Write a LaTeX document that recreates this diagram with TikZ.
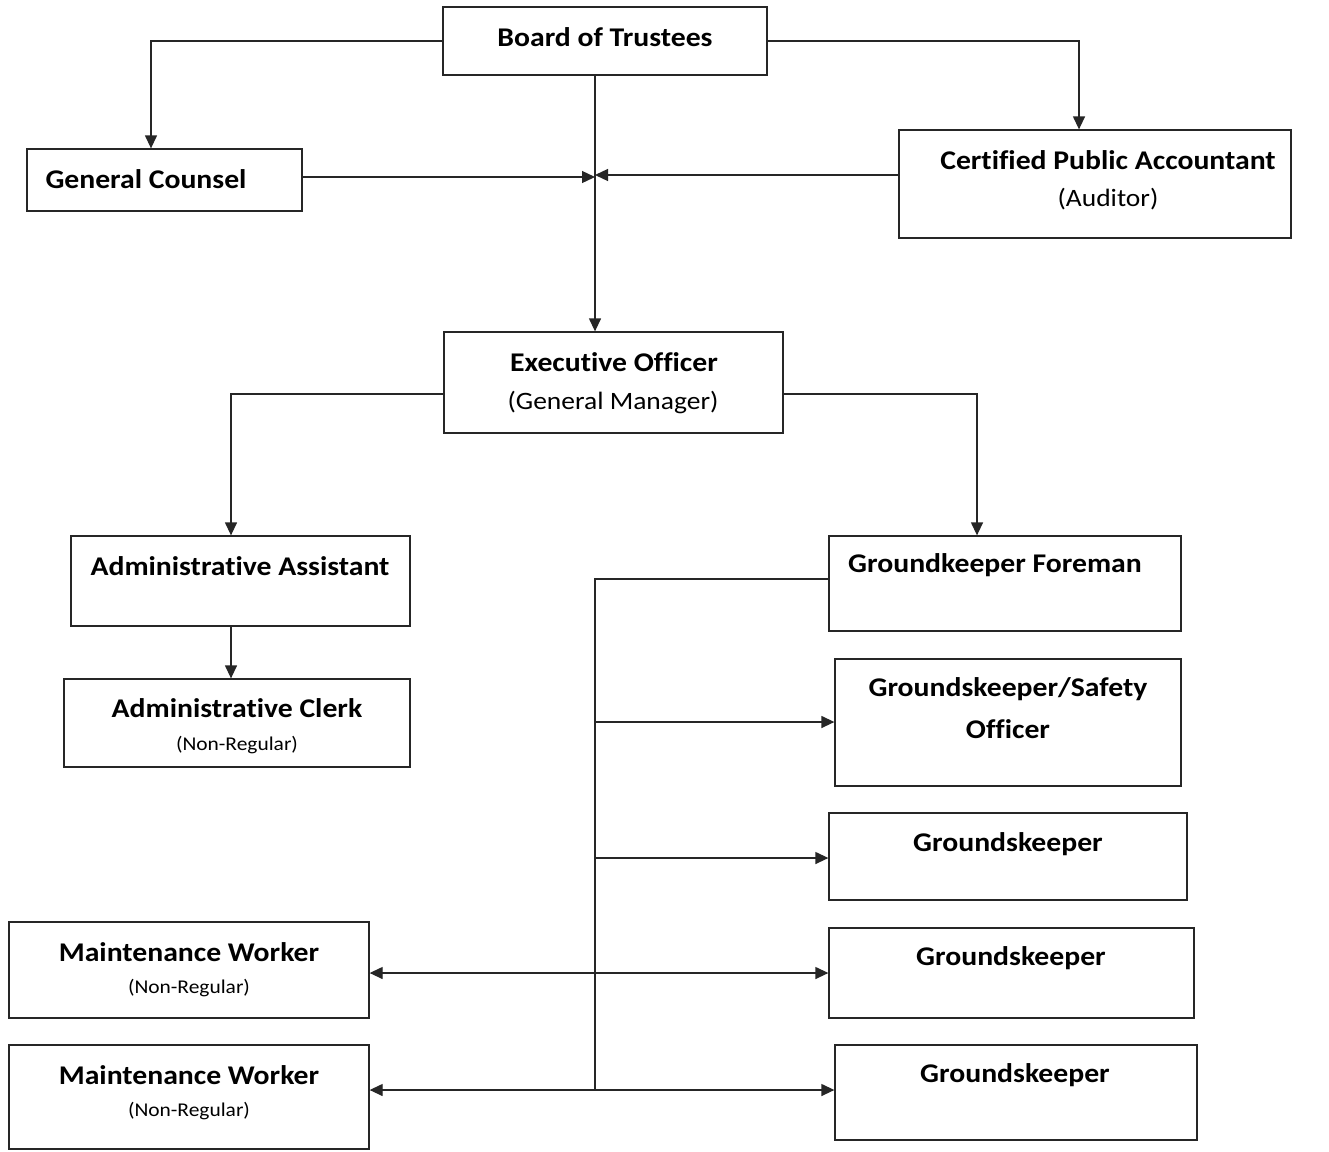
\documentclass[tikz,border=0pt]{standalone}
\usepackage{fontspec}
\setmainfont[FakeStretch=1.1,RawFeature={-liga;-clig;-calt;-dlig}]{Carlito}
\usetikzlibrary{arrows.meta}
\begin{document}
\begin{tikzpicture}[x=1pt,y=-1pt,
  box/.style={draw=black!85, line width=1.3pt, rectangle, inner sep=0pt},
  title/.style={font=\bfseries\fontsize{27}{31}\selectfont, inner sep=0pt, anchor=center},
  sub/.style={font=\fontsize{25}{29}\selectfont, inner sep=0pt, anchor=center},
  small/.style={font=\fontsize{19.5}{23}\selectfont, inner sep=0pt, anchor=center},
  conn/.style={draw=black!85, line width=1.3pt},
  arr/.style={conn, -{Triangle[length=13pt,width=12pt]}},
  line join=miter]
\useasboundingbox (0,0) rectangle (1329,1151);
\fill[white] (0,0) rectangle (1329,1151);
% helper macro for boxes: left, top, right, bottom
\newcommand{\bx}[5]{\node[box, minimum width={(#4-#2)*1pt}, minimum height={(#5-#3)*1pt}] (#1) at ({(#2+#4)/2},{(#3+#5)/2}) {};}
\bx{bot}{443}{7}{767}{75}
\bx{gc}{27}{149}{302}{211}
\bx{cpa}{899}{130}{1291}{238}
\bx{eo}{444}{332}{783}{433}
\bx{aa}{71}{536}{410}{626}
\bx{ac}{64}{679}{410}{767}
\bx{gf}{829}{536}{1181}{631}
\bx{gso}{835}{659}{1181}{786}
\bx{gk1}{829}{813}{1187}{900}
\bx{gk2}{829}{928}{1194}{1018}
\bx{gk3}{835}{1045}{1197}{1140}
\bx{mw1}{9}{922}{369}{1018}
\bx{mw2}{9}{1045}{369}{1149}
% texts
\node[title] (t-bot) at (605,37) {Board of Trustees};
\node[title] (t-gc) at (146,179) {General Counsel};
\node[title] (t-cpa) at (1108,160) {Certified Public Accountant};
\node[sub] (s-cpa) at (1108,199) {(Auditor)};
\node[title] (t-eo) at (614,362) {Executive Officer};
\node[sub] (s-eo) at (613,402) {(General Manager)};
\node[title] (t-aa) at (240,566) {Administrative Assistant};
\node[title] (t-ac) at (237,708) {Administrative Clerk};
\node[small] (s-ac) at (237,745) {(Non-Regular)};
\node[title] (t-gf) at (995,565) {Groundkeeper Foreman};
\node[title] (t-gso1) at (1008,689) {Groundskeeper/Safety};
\node[title] (t-gso2) at (1008,729) {Officer};
\node[title] (t-gk1) at (1008,844) {Groundskeeper};
\node[title] (t-gk2) at (1011,958) {Groundskeeper};
\node[title] (t-gk3) at (1015,1075) {Groundskeeper};
\node[title] (t-mw1) at (189,952) {Maintenance Worker};
\node[small] (s-mw1) at (189,988) {(Non-Regular)};
\node[title] (t-mw2) at (189,1075) {Maintenance Worker};
\node[small] (s-mw2) at (189,1111) {(Non-Regular)};
% junction coordinates
\coordinate (j1) at (595,177);
\coordinate (bus) at (595,1090);
% connectors
\draw[arr] (bot.west |- 0,41) -| (gc.north -| 151,0);
\draw[arr] (bot.east |- 0,41) -| (cpa.north -| 1079,0);
\draw[arr] (bot.south -| 595,0) -- (eo.north -| 595,0);
\draw[arr] (gc.east |- 0,177) -- (j1);
\draw[arr] (cpa.west |- 0,175) -- (j1 |- 0,175);
\draw[arr] (eo.west |- 0,394) -| (aa.north -| 231,0);
\draw[arr] (eo.east |- 0,394) -| (gf.north -| 977,0);
\draw[arr] (aa.south -| 231,0) -- (ac.north -| 231,0);
\draw[conn] (gf.west |- 0,579) -| (bus);
\draw[arr] (595,722) -- (gso.west |- 0,722);
\draw[arr] (595,858) -- (gk1.west |- 0,858);
\draw[arr] (595,973) -- (gk2.west |- 0,973);
\draw[arr] (595,973) -- (mw1.east |- 0,973);
\draw[arr] (bus) -- (gk3.west |- 0,1090);
\draw[arr] (bus) -- (mw2.east |- 0,1090);
\end{tikzpicture}
\end{document}
